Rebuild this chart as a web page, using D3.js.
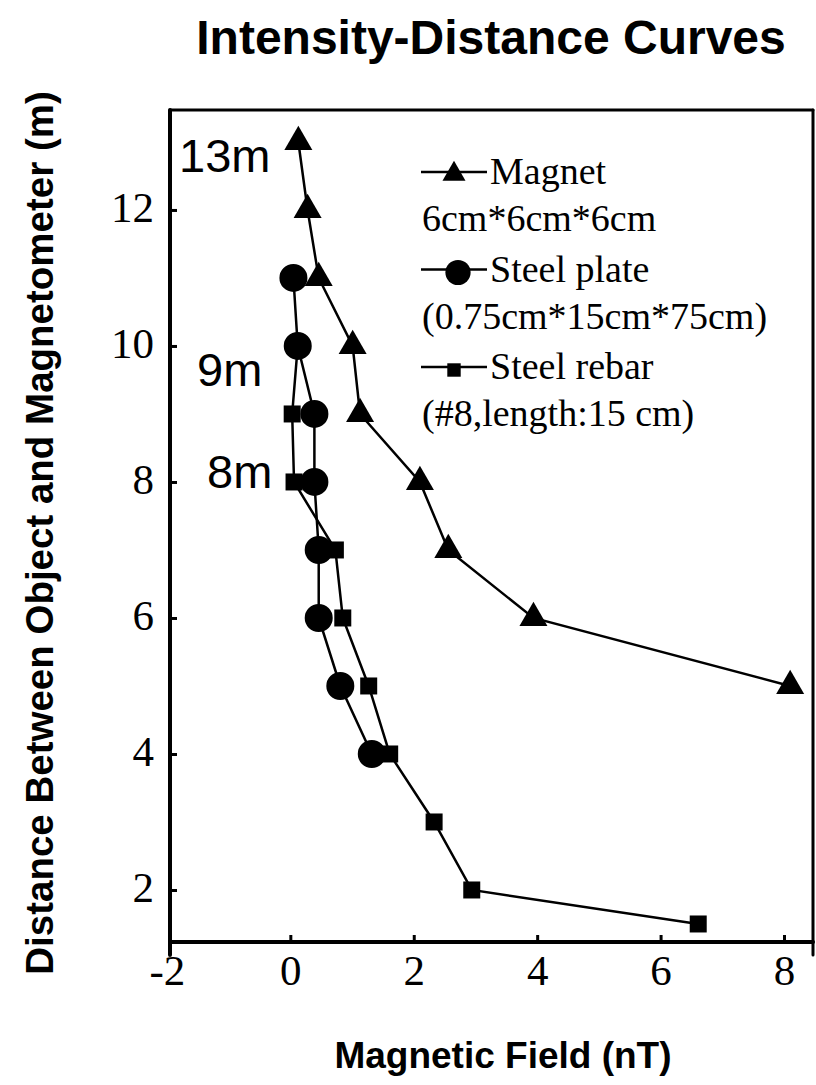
<!DOCTYPE html>
<html>
<head>
<meta charset="utf-8">
<script src="https://cdn.jsdelivr.net/npm/d3@7"></script>
<style>
body { margin:0; background:white; }
.title, .label { font-family:"Liberation Sans", Arial, sans-serif; font-weight:bold; fill:black; }
.tick text { font-family:"Liberation Serif", "Times New Roman", serif; font-size:43px; fill:black; }
.legend text { font-family:"Liberation Serif", "Times New Roman", serif; font-size:38px; fill:black; }
.note { font-family:"Liberation Sans", Arial, sans-serif; font-size:47px; fill:black; }
</style>
</head>
<body>
<svg id="chart"></svg>
<script>
// distances (m) for each object
var magnetDist = [13,12,11,10,9,8,7,6,5];
var magnetField = [0.13,0.28,0.46,1.01,1.13,2.1,2.56,3.94,8.1];

var plateDist = [11,10,9,8,7,6,5,4];
var plateField = [0.05,0.12,0.39,0.39,0.46,0.46,0.81,1.32];

var rebarDist = [10,9,8,7,6,5,4,3,2,1.5];
var rebarField = [0.12,0.03,0.06,0.73,0.85,1.27,1.61,2.33,2.94,6.61];

var xTicks = [-2,0,2,4,6,8];
var yTicks = [2,4,6,8,10,12];

var legendNames = [
    {name:"Magnet", sub:"6cm*6cm*6cm", type:"triangle"},
    {name:"Steel plate", sub:"(0.75cm*15cm*75cm)", type:"circle"},
    {name:"Steel rebar", sub:"(#8,length:15 cm)", type:"square"}
];

var notes = [{text:"13m", d:13}, {text:"9m", d:9}, {text:"8m", d:8}];

var zip = function(dist, field)
{
    return dist.map(function(d,i){ return {d:d, f:field[i]}; });
}

var symbols = {
    triangle:d3.symbol().type(d3.symbolTriangle).size(340),
    circle:d3.symbol().type(d3.symbolCircle).size(616),
    square:d3.symbol().type(d3.symbolSquare).size(289)
}
var legendSymbols = {
    triangle:d3.symbol().type(d3.symbolTriangle).size(230),
    circle:d3.symbol().type(d3.symbolCircle).size(500),
    square:d3.symbol().type(d3.symbolSquare).size(180)
}

var drawSeries = function(svg, data, type, xScale, yScale)
{
    var line = d3.line()
        .x(function(p){ return xScale(p.f); })
        .y(function(p){ return yScale(p.d); });

    var g = svg.append("g").classed(type, true);
    g.append("path")
        .datum(data)
        .attr("d", line)
        .attr("fill", "none")
        .attr("stroke", "black")
        .attr("stroke-width", 2.5);

    g.selectAll("path.mark")
        .data(data)
        .enter()
        .append("path")
        .classed("mark", true)
        .attr("d", symbols[type])
        .attr("transform", function(p){ return "translate(" + xScale(p.f) + "," + yScale(p.d) + ")"; })
        .attr("fill", "black");
}

var drawAxes = function(svg, xScale, yScale)
{
    var left = xScale.range()[0], right = xScale.range()[1];
    var bottom = yScale.range()[0], top = yScale.range()[1];

    var xAxis = d3.axisBottom(xScale).tickValues(xTicks).tickSize(-7).tickFormat(d3.format(""));
    var gx = svg.append("g")
        .attr("transform", "translate(0," + bottom + ")")
        .call(xAxis);
    gx.select(".domain").remove();
    gx.selectAll(".tick line").attr("stroke-width", 3)
        .filter(function(d){ return d < xScale.domain()[0]; }).remove();
    gx.selectAll(".tick text").attr("dy", null).attr("y", 43)
        .text(function(d){ return d < 0 ? "-" + Math.abs(d) : d; });

    var yAxis = d3.axisLeft(yScale).tickValues(yTicks).tickSize(-7).tickPadding(16);
    var gy = svg.append("g")
        .attr("transform", "translate(" + left + ",0)")
        .call(yAxis);
    gy.select(".domain").remove();
    gy.selectAll(".tick line").attr("stroke-width", 3);
    gy.selectAll(".tick text").attr("dy", "0.26em");

    var frame = svg.append("g").attr("stroke", "black").attr("stroke-linecap", "round");
    frame.append("line").attr("x1", left).attr("x2", left).attr("y1", top).attr("y2", bottom + 13).attr("stroke-width", 4);
    frame.append("line").attr("x1", left).attr("x2", right).attr("y1", bottom).attr("y2", bottom).attr("stroke-width", 4);
    frame.append("line").attr("x1", left).attr("x2", right).attr("y1", top).attr("y2", top).attr("stroke-width", 3);
    frame.append("line").attr("x1", right).attr("x2", right).attr("y1", top).attr("y2", bottom + 13).attr("stroke-width", 3);
}

var drawLabels = function(svg, xScale, yScale)
{
    svg.append("text")
        .classed("title", true)
        .text("Intensity-Distance Curves")
        .attr("text-anchor", "middle")
        .attr("font-size", 48)
        .attr("x", 491)
        .attr("y", 54);

    svg.append("text")
        .classed("label", true)
        .text("Magnetic Field (nT)")
        .attr("text-anchor", "middle")
        .attr("font-size", 37)
        .attr("x", 503)
        .attr("y", 1068);

    svg.append("text")
        .classed("label", true)
        .text("Distance Between Object and Magnetometer (m)")
        .attr("text-anchor", "middle")
        .attr("font-size", 38.5)
        .attr("transform", "translate(53,533) rotate(-90)");

    // label offsets from the left axis / the distance they mark
    var offsets = {"13m":[9, 30], "9m":[27, -28], "8m":[37, 6]};
    svg.selectAll("text.note")
        .data(notes)
        .enter()
        .append("text")
        .classed("note", true)
        .text(function(n){ return n.text; })
        .attr("x", function(n){ return xScale.range()[0] + offsets[n.text][0]; })
        .attr("y", function(n){ return yScale(n.d) + offsets[n.text][1]; });
}

var drawLegend = function(svg)
{
    var legend = svg.append("g")
        .classed("legend", true)
        .attr("transform", "translate(421,172)");

    var entries = legend.selectAll("g")
        .data(legendNames)
        .enter()
        .append("g")
        .attr("transform", function(c, i){ return "translate(0," + (i * 97.5) + ")"; });

    entries.append("line")
        .attr("x1", 0).attr("x2", 66)
        .attr("y1", 0).attr("y2", 0)
        .attr("stroke", "black")
        .attr("stroke-width", 2.5);

    entries.append("path")
        .attr("d", function(c){ return legendSymbols[c.type](); })
        .attr("transform", function(c){ return "translate(" + (c.type == "circle" ? 37 : 33) + "," + (c.type == "triangle" ? 2 : 3) + ")"; })
        .attr("fill", "black");

    entries.append("text")
        .text(function(c){ return c.name; })
        .attr("x", 69)
        .attr("y", 12);

    entries.append("text")
        .text(function(c){ return c.sub; })
        .attr("x", 1)
        .attr("y", 59);
}

var initGraph = function()
{
    var screen = {width:816, height:1085};
    var svg = d3.select("#chart")
        .attr("width", screen.width)
        .attr("height", screen.height);

    var xScale = d3.scaleLinear()
        .domain([-1.95, 8.47])
        .range([170, 813]);
    var yScale = d3.scaleLinear()
        .domain([1.235, 13.47])
        .range([942, 110]);

    drawAxes(svg, xScale, yScale);
    drawSeries(svg, zip(rebarDist, rebarField), "square", xScale, yScale);
    drawSeries(svg, zip(plateDist, plateField), "circle", xScale, yScale);
    drawSeries(svg, zip(magnetDist, magnetField), "triangle", xScale, yScale);
    drawLabels(svg, xScale, yScale);
    drawLegend(svg);
}

initGraph();
</script>
</body>
</html>
